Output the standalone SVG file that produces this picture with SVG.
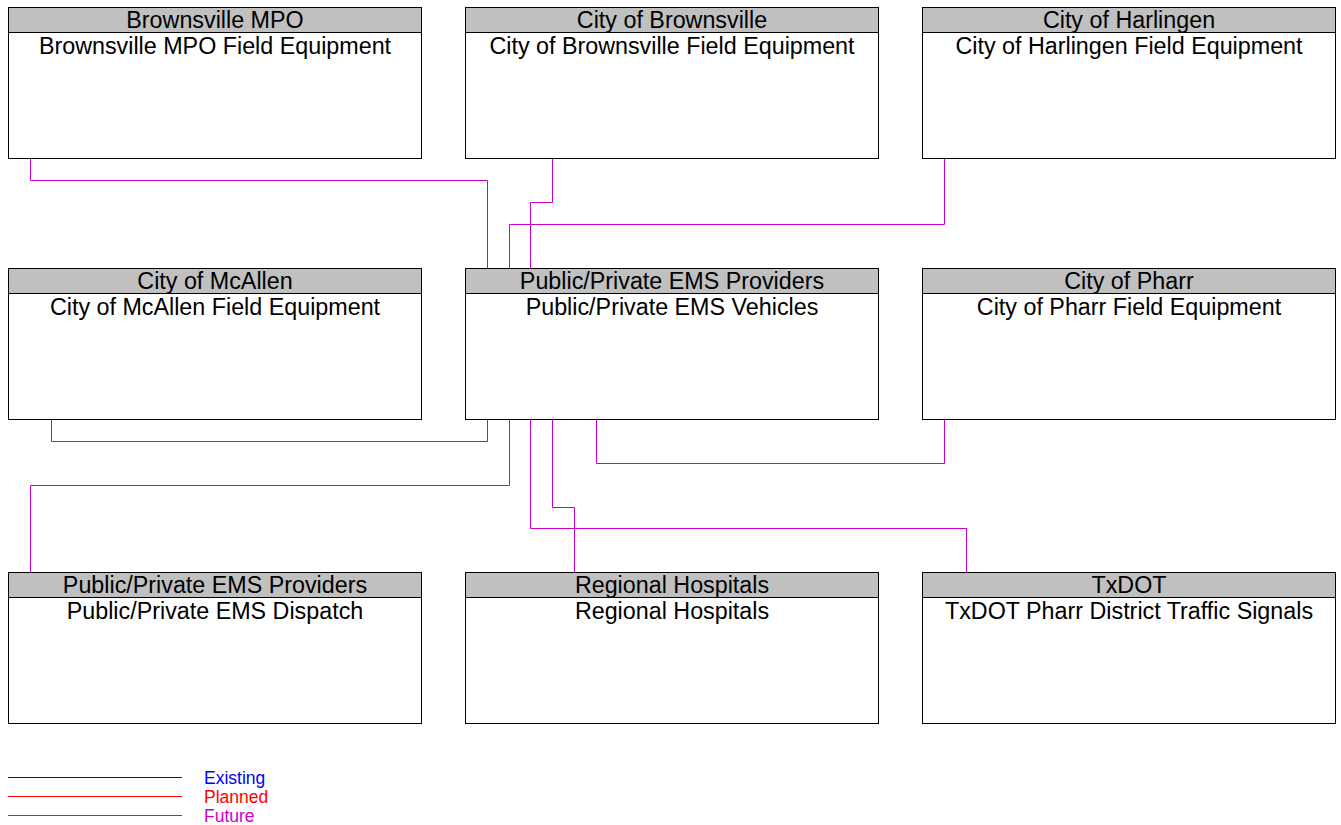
<svg xmlns="http://www.w3.org/2000/svg" width="1341" height="825" viewBox="0 0 1341 825">
<style>
.box{fill:#fff;stroke:#000;stroke-width:1}
.hdr{fill:#c0c0c0;stroke:#000;stroke-width:1}
.t{font-family:"Liberation Sans",Arial,sans-serif;font-size:23.3px;text-anchor:middle;fill:#000}
.c{fill:none;stroke:#cc00cc;stroke-width:1}
.lg{font-family:"Liberation Sans",Arial,sans-serif;font-size:17.5px}
</style>
<rect width="1341" height="825" fill="#fff"/>
<g id="connectors">
<polyline class="c" points="30.5,158 30.5,180.5 487.5,180.5 487.5,268"/>
<polyline class="c" points="552.5,158 552.5,202.5 530.5,202.5 530.5,268"/>
<polyline class="c" points="944.5,158 944.5,224.5 509.5,224.5 509.5,268"/>
<polyline class="c" points="51.5,419 51.5,441.5 487.5,441.5 487.5,419"/>
<polyline class="c" points="944.5,419 944.5,463.5 596.5,463.5 596.5,419"/>
<polyline class="c" points="30.5,572 30.5,485.5 509.5,485.5 509.5,419"/>
<polyline class="c" points="574.5,572 574.5,507.5 552.5,507.5 552.5,419"/>
<polyline class="c" points="966.5,572 966.5,528.5 530.5,528.5 530.5,419"/>
</g>
<g id="n1"><rect class="box" x="8.5" y="7.5" width="413" height="151"/><rect class="hdr" x="8.5" y="7.5" width="413" height="25"/><text class="t" x="215" y="28">Brownsville MPO</text><text class="t" x="215" y="54">Brownsville MPO Field Equipment</text></g>
<g id="n2"><rect class="box" x="465.5" y="7.5" width="413" height="151"/><rect class="hdr" x="465.5" y="7.5" width="413" height="25"/><text class="t" x="672" y="28">City of Brownsville</text><text class="t" x="672" y="54">City of Brownsville Field Equipment</text></g>
<g id="n3"><rect class="box" x="922.5" y="7.5" width="413" height="151"/><rect class="hdr" x="922.5" y="7.5" width="413" height="25"/><text class="t" x="1129" y="28">City of Harlingen</text><text class="t" x="1129" y="54">City of Harlingen Field Equipment</text></g>
<g id="n4"><rect class="box" x="8.5" y="268.5" width="413" height="151"/><rect class="hdr" x="8.5" y="268.5" width="413" height="25"/><text class="t" x="215" y="289">City of McAllen</text><text class="t" x="215" y="315">City of McAllen Field Equipment</text></g>
<g id="n5"><rect class="box" x="465.5" y="268.5" width="413" height="151"/><rect class="hdr" x="465.5" y="268.5" width="413" height="25"/><text class="t" x="672" y="289">Public/Private EMS Providers</text><text class="t" x="672" y="315">Public/Private EMS Vehicles</text></g>
<g id="n6"><rect class="box" x="922.5" y="268.5" width="413" height="151"/><rect class="hdr" x="922.5" y="268.5" width="413" height="25"/><text class="t" x="1129" y="289">City of Pharr</text><text class="t" x="1129" y="315">City of Pharr Field Equipment</text></g>
<g id="n7"><rect class="box" x="8.5" y="572.5" width="413" height="151"/><rect class="hdr" x="8.5" y="572.5" width="413" height="25"/><text class="t" x="215" y="593">Public/Private EMS Providers</text><text class="t" x="215" y="619">Public/Private EMS Dispatch</text></g>
<g id="n8"><rect class="box" x="465.5" y="572.5" width="413" height="151"/><rect class="hdr" x="465.5" y="572.5" width="413" height="25"/><text class="t" x="672" y="593">Regional Hospitals</text><text class="t" x="672" y="619">Regional Hospitals</text></g>
<g id="n9"><rect class="box" x="922.5" y="572.5" width="413" height="151"/><rect class="hdr" x="922.5" y="572.5" width="413" height="25"/><text class="t" x="1129" y="593">TxDOT</text><text class="t" x="1129" y="619">TxDOT Pharr District Traffic Signals</text></g>
<g id="legend">
<line x1="8" y1="777.5" x2="182" y2="777.5" stroke="#0000ff"/>
<line x1="8" y1="796.5" x2="182" y2="796.5" stroke="#ff0000"/>
<line x1="8" y1="815.5" x2="182" y2="815.5" stroke="#cc00cc"/>
<text class="lg" x="204" y="784" fill="#0000ff">Existing</text>
<text class="lg" x="204" y="803" fill="#ff0000">Planned</text>
<text class="lg" x="204" y="822" fill="#cc00cc">Future</text>
</g>
</svg>
